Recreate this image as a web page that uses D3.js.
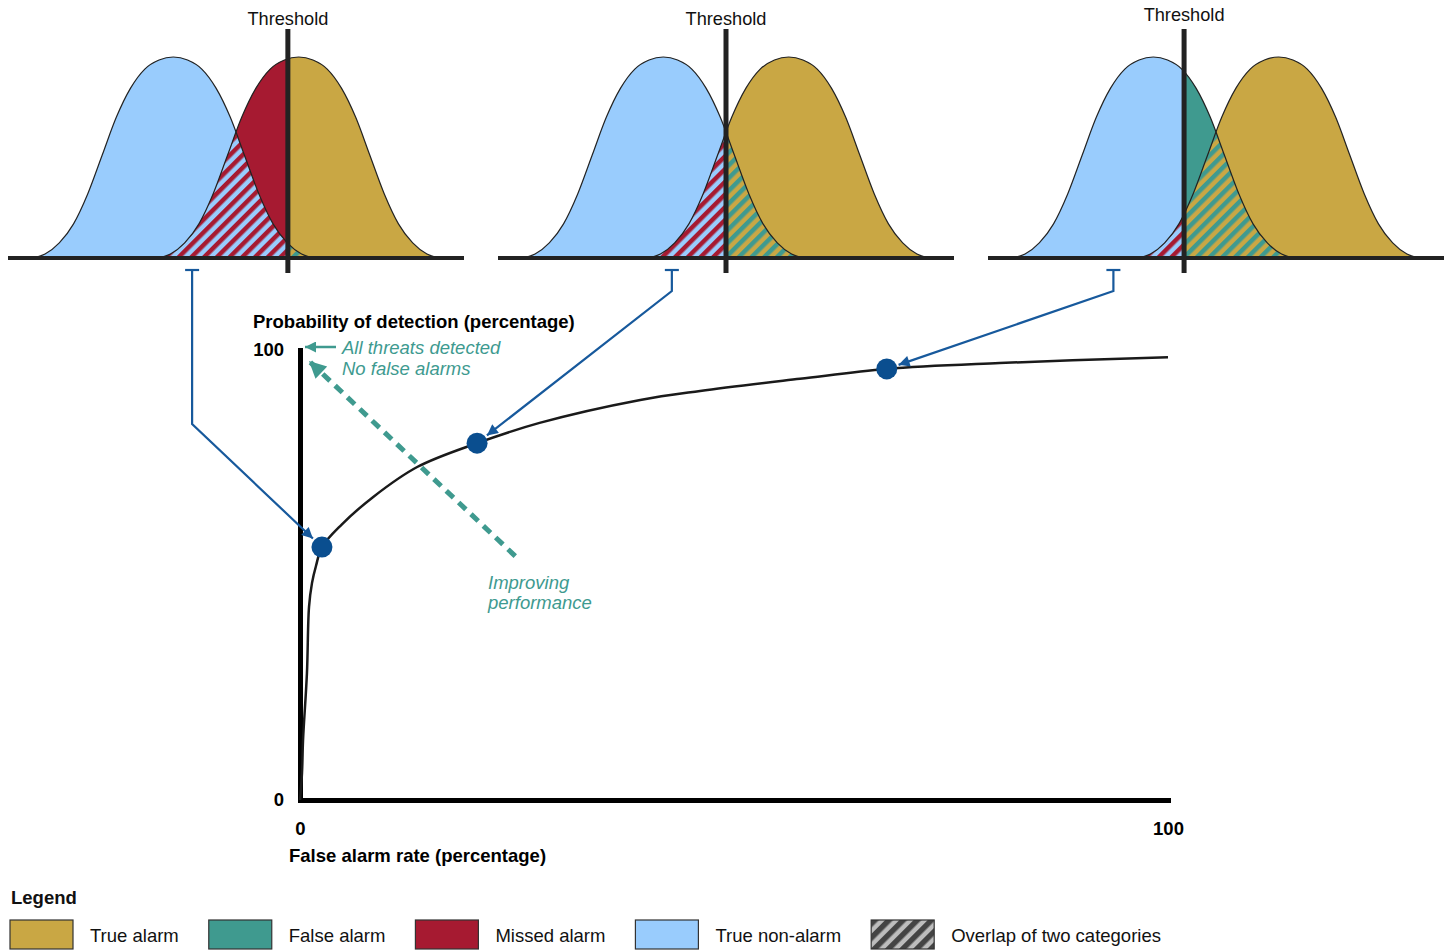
<!DOCTYPE html>
<html>
<head>
<meta charset="utf-8">
<script src="https://cdn.jsdelivr.net/npm/d3@7"></script>
<style>
  body { margin: 0; background: #fff; }
  text { font-family: "Liberation Sans", Arial, sans-serif; }
</style>
</head>
<body>
<div id="chart"></div>
<script>
// bell profile: relative height at a distance from the peak (score units)
var bellOffsets = [0, 0.25, 0.5, 0.75, 1.0, 1.25, 1.5, 1.75, 2.0, 2.25, 2.5];
var bellHeights = [1, 0.985, 0.94, 0.845, 0.70, 0.51, 0.32, 0.17, 0.075, 0.02, 0];
var nonAlarmMean = -1.1;
var alarmMean = 1.1;
var thresholds = [0.91, 0, -0.56];
var markerScores = [-0.77, -0.95, -1.8];

// ROC curve (percentages)
var rocFalseAlarm = [0, 0.23, 0.35, 0.8, 1.04, 1.38, 1.84, 2.53, 4.8, 8.4, 13.5, 20.4, 27.6, 39.2, 46.1, 57.6, 67.6, 80.6, 100];
var rocDetection = [0, 6, 13.3, 28.2, 42.9, 48.2, 52, 56.2, 61.2, 67.3, 74, 79.3, 83.8, 88.9, 90.9, 93.6, 95.8, 97.1, 98.4];
var pointFalseAlarm = [2.53, 20.4, 67.6];
var pointDetection = [56.2, 79.3, 95.8];
var axisTicks = [0, 100];

var legendLabels = ["True alarm", "False alarm", "Missed alarm", "True non-alarm", "Overlap of two categories"];

var width = 1452,
  height = 950,
  fontSize = 18.5;
var col = {
  gold: "#c9a744",
  teal: "#3f9a8f",
  red: "#a61a31",
  blue: "#99ccfd",
  ink: "#222222",
  navy: "#0a4e8f",
  lead: "#17599c",
  note: "#3e9a90"
};
var panelLeft = [8, 498, 988],
  panelWidth = 456,
  labelY = [25, 25, 21],
  elbowY = [424, 291, 291];

var svg = d3
  .select("#chart")
  .append("svg")
  .attr("width", width)
  .attr("height", height);
var defs = svg.append("defs");

function hatch(id, a, b, size, share) {
  var p = defs
    .append("pattern")
    .attr("id", id)
    .attr("patternUnits", "userSpaceOnUse")
    .attr("width", size)
    .attr("height", size)
    .attr("patternTransform", "rotate(45)");
  p.append("rect").attr("width", size).attr("height", size).attr("fill", b);
  p.append("rect").attr("width", size * share).attr("height", size).attr("fill", a);
}
hatch("hatchRB", col.red, col.blue, 9, 0.5);
hatch("hatchTG", col.teal, col.gold, 9, 0.5);
hatch("hatchGrey", "#444", "#bdbdbd", 10, 0.55);

function arrowMarker(id, color, w, h) {
  defs
    .append("marker")
    .attr("id", id)
    .attr("viewBox", "0 0 10 10")
    .attr("refX", 10)
    .attr("refY", 5)
    .attr("markerUnits", "userSpaceOnUse")
    .attr("markerWidth", w)
    .attr("markerHeight", h)
    .attr("orient", "auto")
    .append("path")
    .attr("d", "M0,0L10,5L0,10z")
    .attr("fill", color);
}
arrowMarker("headBlue", col.lead, 13, 11);
arrowMarker("headTeal", col.teal, 13, 11);
arrowMarker("headTealBig", col.teal, 19, 17);

/* ---------- distribution panels ---------- */
var ys = d3.scaleLinear().domain([0, 1]).range([258, 57]);

function bellPoints(m) {
  var pts = [];
  for (var k = bellOffsets.length - 1; k > 0; k--) pts.push([m - bellOffsets[k], bellHeights[k]]);
  for (var k = 0; k < bellOffsets.length; k++) pts.push([m + bellOffsets[k], bellHeights[k]]);
  return pts;
}

var panelScales = [];
panelLeft.forEach(function (x0, i) {
  var xs = d3.scaleLinear().domain([-4, 4]).range([x0, x0 + panelWidth]);
  panelScales.push(xs);
  var tx = xs(thresholds[i]);
  var area = d3
    .area()
    .x((d) => xs(d[0]))
    .y0(ys(0))
    .y1((d) => ys(d[1]))
    .curve(d3.curveMonotoneX);
  var line = d3
    .line()
    .x((d) => xs(d[0]))
    .y((d) => ys(d[1]))
    .curve(d3.curveMonotoneX);
  var blue = bellPoints(nonAlarmMean),
    gold = bellPoints(alarmMean);

  defs.append("clipPath").attr("id", "left" + i)
    .append("rect").attr("x", 0).attr("y", 0).attr("width", tx).attr("height", 300);
  defs.append("clipPath").attr("id", "right" + i)
    .append("rect").attr("x", tx).attr("y", 0).attr("width", width - tx).attr("height", 300);
  defs.append("clipPath").attr("id", "blue" + i)
    .append("path").attr("d", area(blue));

  var g = svg.append("g").attr("class", "panel");

  g.append("path").attr("d", area(blue)).attr("fill", col.blue);
  g.append("path").attr("d", area(gold)).attr("fill", col.gold);
  // missed alarms: alarm distribution below the threshold
  g.append("path").attr("d", area(gold)).attr("fill", col.red).attr("clip-path", "url(#left" + i + ")");
  // false alarms: non-alarm distribution above the threshold
  g.append("path").attr("d", area(blue)).attr("fill", col.teal).attr("clip-path", "url(#right" + i + ")");
  // overlap of the two distributions
  g.append("g").attr("clip-path", "url(#left" + i + ")")
    .append("path").attr("d", area(gold)).attr("fill", "url(#hatchRB)").attr("clip-path", "url(#blue" + i + ")");
  g.append("g").attr("clip-path", "url(#right" + i + ")")
    .append("path").attr("d", area(gold)).attr("fill", "url(#hatchTG)").attr("clip-path", "url(#blue" + i + ")");

  [blue, gold].forEach(function (pts) {
    g.append("path").attr("d", line(pts)).attr("fill", "none").attr("stroke", col.ink).attr("stroke-width", 1.2);
  });

  g.append("line")
    .attr("x1", x0).attr("x2", x0 + panelWidth)
    .attr("y1", ys(0)).attr("y2", ys(0))
    .attr("stroke", col.ink).attr("stroke-width", 4);
  g.append("line")
    .attr("x1", tx).attr("x2", tx)
    .attr("y1", 29).attr("y2", 273)
    .attr("stroke", col.ink).attr("stroke-width", 5);
  g.append("text")
    .attr("x", tx).attr("y", labelY[i])
    .attr("text-anchor", "middle")
    .attr("font-size", 18.2)
    .attr("fill", "#111")
    .text("Threshold");
});

/* ---------- ROC chart ---------- */
var xScale = d3.scaleLinear().domain([0, 100]).range([300, 1168]);
var yScale = d3.scaleLinear().domain([0, 100]).range([800, 350]);

var xAxis = d3.axisBottom(xScale).tickValues(axisTicks).tickSize(0).tickPadding(22).tickFormat(d3.format("d"));
var yAxis = d3.axisLeft(yScale).tickValues(axisTicks).tickSize(0).tickPadding(16).tickFormat(d3.format("d"));

svg.append("g").attr("class", "x axis").attr("transform", "translate(0,800)").call(xAxis);
svg.append("g").attr("class", "y axis").attr("transform", "translate(300,0)").call(yAxis);
svg.selectAll(".axis .domain").attr("stroke", "#000").attr("stroke-width", 5).attr("stroke-linecap", "square");
svg.selectAll(".axis text")
  .attr("font-family", "Liberation Sans, Arial, sans-serif")
  .attr("font-size", fontSize)
  .attr("font-weight", "bold")
  .attr("fill", "#000");

svg.append("text").attr("x", 253).attr("y", 328)
  .attr("font-size", fontSize).attr("font-weight", "bold").attr("fill", "#000")
  .text("Probability of detection (percentage)");
svg.append("text").attr("x", 289).attr("y", 862)
  .attr("font-size", fontSize).attr("font-weight", "bold").attr("fill", "#000")
  .text("False alarm rate (percentage)");

// improving performance annotation
var corner = [xScale(0), yScale(100)];
svg.append("line")
  .attr("x1", xScale(24.8)).attr("y1", yScale(54.2))
  .attr("x2", corner[0] + 9).attr("y2", corner[1] + 11)
  .attr("stroke", col.teal).attr("stroke-width", 5)
  .attr("stroke-dasharray", "10,7")
  .attr("marker-end", "url(#headTealBig)");
svg.append("line")
  .attr("x1", corner[0] + 36).attr("y1", corner[1] - 3)
  .attr("x2", corner[0] + 5).attr("y2", corner[1] - 3)
  .attr("stroke", col.teal).attr("stroke-width", 2.5)
  .attr("marker-end", "url(#headTeal)");

var notes = [
  [342, 354, "All threats detected"],
  [342, 375, "No false alarms"],
  [488, 589, "Improving"],
  [488, 609, "performance"]
];
svg.selectAll(".note").data(notes).enter().append("text")
  .attr("class", "note")
  .attr("x", (d) => d[0]).attr("y", (d) => d[1])
  .attr("font-size", fontSize).attr("font-style", "italic").attr("fill", col.note)
  .text((d) => d[2]);

var roc = d3.line().x((d) => xScale(d[0])).y((d) => yScale(d[1])).curve(d3.curveCatmullRom.alpha(0.5));
svg.append("path")
  .attr("d", roc(rocFalseAlarm.map((v, i) => [v, rocDetection[i]])))
  .attr("fill", "none").attr("stroke", "#1a1a1a").attr("stroke-width", 2.5);

// leaders from each panel to its operating point
var dotR = 10.5;
pointFalseAlarm.forEach(function (fa, i) {
  var px = xScale(fa), py = yScale(pointDetection[i]);
  var mx = panelScales[i](markerScores[i]);
  var dx = px - mx, dy = py - elbowY[i], len = Math.sqrt(dx * dx + dy * dy);
  var tipX = px - (dx / len) * (dotR + 2), tipY = py - (dy / len) * (dotR + 2);
  svg.append("path")
    .attr("d", "M" + mx + ",270V" + elbowY[i] + "L" + tipX + "," + tipY)
    .attr("fill", "none").attr("stroke", col.lead).attr("stroke-width", 2.2)
    .attr("marker-end", "url(#headBlue)");
  svg.append("line")
    .attr("x1", mx - 7).attr("x2", mx + 7).attr("y1", 270).attr("y2", 270)
    .attr("stroke", col.lead).attr("stroke-width", 2.2);
});

svg.selectAll(".dot")
  .data(pointFalseAlarm)
  .enter().append("circle")
  .attr("class", "dot")
  .attr("cx", (d) => xScale(d))
  .attr("cy", (d, i) => yScale(pointDetection[i]))
  .attr("r", dotR)
  .attr("fill", col.navy);

/* ---------- legend ---------- */
svg.append("text").attr("x", 11).attr("y", 904)
  .attr("font-size", fontSize).attr("font-weight", "bold").attr("fill", "#111")
  .text("Legend");

var legendFills = [col.gold, col.teal, col.red, col.blue, "url(#hatchGrey)"];
var lx = 10;
legendLabels.forEach(function (label, i) {
  var g = svg.append("g").attr("transform", "translate(" + lx + ",920)");
  g.append("rect").attr("width", 63).attr("height", 29)
    .attr("fill", legendFills[i]).attr("stroke", "#333").attr("stroke-width", 1.2);
  var t = g.append("text").attr("x", 80).attr("y", 22)
    .attr("font-size", fontSize).attr("fill", "#111").text(label);
  lx += 80 + t.node().getComputedTextLength() + 30;
});
</script>
</body>
</html>
